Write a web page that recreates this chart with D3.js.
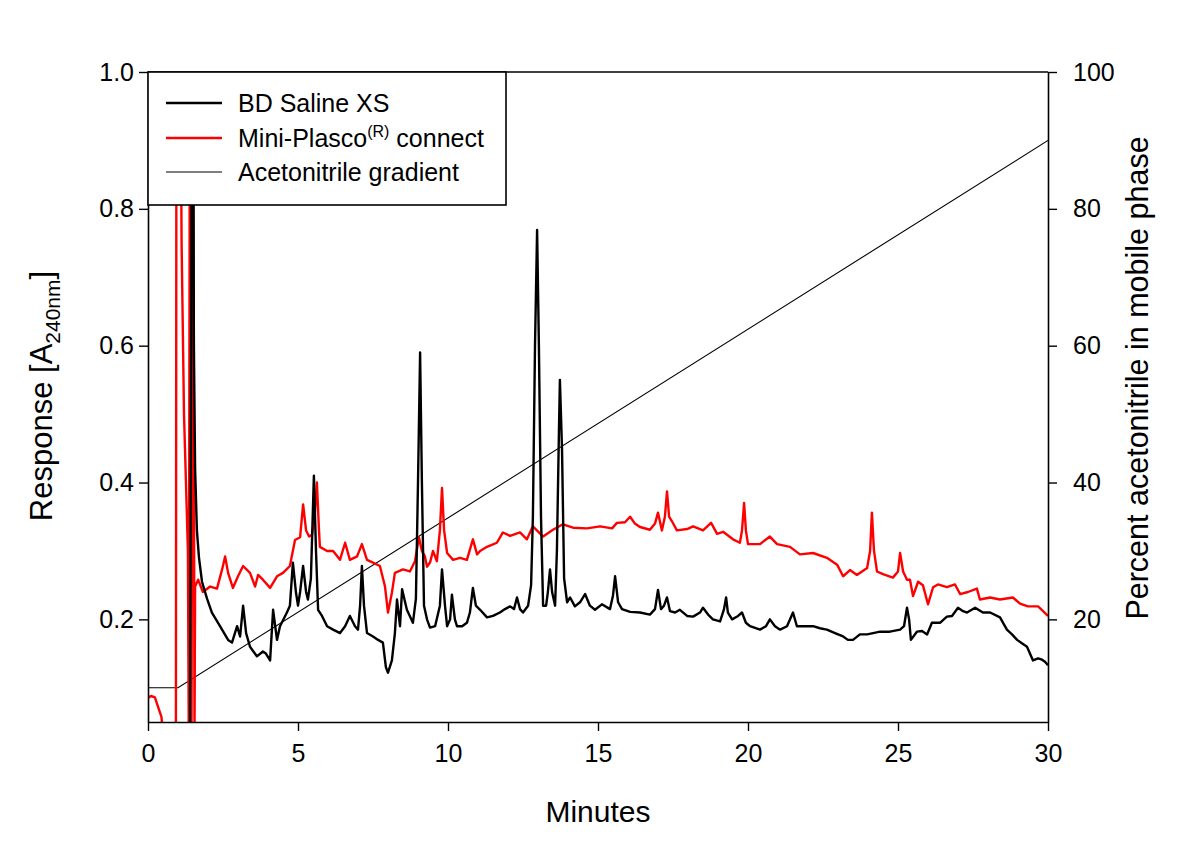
<!DOCTYPE html>
<html><head><meta charset="utf-8">
<script src="https://cdn.jsdelivr.net/npm/d3@7"></script>
<style>
html,body{margin:0;padding:0;background:#fff;}
svg text{font-family:"Liberation Sans", Arial, sans-serif;fill:#000;}
</style></head>
<body>
<svg id="chart" width="1200" height="858"></svg>
<script>
// ---- data ----
const xTicks = [0, 5, 10, 15, 20, 25, 30];
const leftTicks = [0.2, 0.4, 0.6, 0.8, 1.0];
const rightTicks = [20, 40, 60, 80, 100];

const gradientTime = [0, 1, 30];
const gradientPct = [10, 10, 90];

const blackTime = [1.40,1.47,1.50,1.53,1.57,1.63,1.7,1.8,1.97,2.13,2.4,2.67,2.8,2.97,3.07,3.17,3.27,3.4,3.63,3.83,3.93,4.07,4.17,4.3,4.4,4.63,4.73,4.83,4.93,5.0,5.07,5.17,5.27,5.33,5.43,5.53,5.6,5.67,5.8,5.97,6.17,6.4,6.57,6.73,6.9,7.0,7.07,7.13,7.2,7.3,7.5,7.67,7.83,7.93,8.0,8.13,8.23,8.3,8.4,8.47,8.57,8.63,8.83,8.93,9.0,9.07,9.13,9.2,9.3,9.4,9.57,9.73,9.8,9.9,9.97,10.07,10.13,10.23,10.3,10.47,10.63,10.73,10.83,10.93,11.07,11.3,11.5,11.73,11.9,12.07,12.2,12.3,12.4,12.5,12.67,12.77,12.83,12.9,12.97,13.03,13.1,13.17,13.27,13.33,13.4,13.47,13.57,13.63,13.7,13.73,13.8,13.87,13.97,14.07,14.23,14.4,14.57,14.73,14.9,15.13,15.4,15.5,15.57,15.67,15.8,16.07,16.4,16.73,16.9,17.0,17.1,17.2,17.3,17.4,17.57,17.73,17.97,18.17,18.4,18.5,18.67,18.83,19.07,19.2,19.27,19.33,19.47,19.67,19.8,19.93,20.07,20.4,20.6,20.73,20.9,21.07,21.3,21.5,21.63,21.9,22.17,22.4,22.63,22.9,23.17,23.33,23.5,23.73,23.97,24.17,24.4,24.73,25.07,25.2,25.3,25.37,25.43,25.63,25.8,25.97,26.13,26.4,26.63,26.8,27.0,27.17,27.3,27.57,27.83,28.07,28.4,28.63,28.8,28.97,29.13,29.3,29.5,29.67,29.8,29.9,30.0];
const blackAbs = [0.03,1.1,1.1,0.6,0.42,0.33,0.29,0.255,0.23,0.21,0.19,0.17,0.166,0.19,0.175,0.22,0.18,0.16,0.146,0.153,0.15,0.14,0.214,0.17,0.19,0.21,0.22,0.283,0.24,0.22,0.24,0.278,0.24,0.229,0.26,0.41,0.30,0.214,0.205,0.19,0.185,0.18,0.19,0.205,0.19,0.185,0.22,0.278,0.22,0.18,0.175,0.17,0.166,0.13,0.122,0.14,0.18,0.229,0.19,0.244,0.225,0.214,0.195,0.23,0.40,0.59,0.40,0.22,0.20,0.188,0.19,0.22,0.273,0.22,0.19,0.20,0.236,0.20,0.19,0.19,0.195,0.21,0.246,0.22,0.214,0.203,0.205,0.21,0.215,0.219,0.215,0.232,0.215,0.21,0.22,0.25,0.35,0.60,0.769,0.60,0.35,0.22,0.22,0.24,0.273,0.24,0.22,0.30,0.48,0.55,0.45,0.26,0.225,0.232,0.219,0.225,0.237,0.22,0.214,0.222,0.215,0.235,0.263,0.225,0.215,0.211,0.21,0.207,0.215,0.243,0.215,0.22,0.232,0.212,0.21,0.214,0.205,0.204,0.21,0.217,0.207,0.20,0.197,0.215,0.232,0.21,0.20,0.205,0.21,0.195,0.19,0.185,0.19,0.20,0.19,0.185,0.19,0.21,0.19,0.19,0.19,0.187,0.185,0.18,0.175,0.17,0.17,0.178,0.178,0.18,0.182,0.182,0.185,0.19,0.217,0.20,0.17,0.182,0.183,0.178,0.195,0.195,0.204,0.205,0.217,0.212,0.21,0.217,0.21,0.21,0.203,0.185,0.178,0.17,0.165,0.16,0.14,0.143,0.141,0.138,0.133];

const redTime = [0,0.1,0.23,0.33,0.45,0.5,0.93,0.95,1.07,1.12,1.2,1.33,1.36,1.40,1.45,1.50,1.55,1.57,1.67,1.83,2.07,2.3,2.47,2.57,2.67,2.83,3.0,3.17,3.4,3.57,3.67,3.83,4.07,4.3,4.5,4.73,4.9,5.07,5.17,5.27,5.37,5.47,5.57,5.63,5.7,5.73,5.97,6.17,6.4,6.57,6.73,6.97,7.13,7.3,7.5,7.73,7.9,8.0,8.13,8.23,8.5,8.73,8.9,9.03,9.13,9.23,9.3,9.4,9.5,9.63,9.73,9.8,9.87,9.97,10.17,10.4,10.63,10.83,10.97,11.07,11.3,11.63,11.83,12.07,12.4,12.63,12.83,13.17,13.5,13.83,14.17,14.63,15.07,15.47,15.63,15.9,16.07,16.23,16.4,16.73,16.9,17.0,17.13,17.23,17.3,17.37,17.47,17.63,17.97,18.17,18.5,18.77,18.97,19.17,19.5,19.73,19.8,19.87,19.93,20.0,20.4,20.73,20.97,21.4,21.73,22.17,22.63,22.97,23.17,23.4,23.63,23.97,24.07,24.13,24.2,24.3,24.5,24.83,25.0,25.07,25.17,25.3,25.4,25.5,25.67,25.83,26.0,26.17,26.33,26.63,26.9,27.07,27.33,27.63,27.73,28.07,28.4,28.83,29.07,29.33,29.67,30.0];
const redAbs = [0.085,0.088,0.086,0.073,0.057,0.03,0.03,1.1,1.1,0.75,0.5,0.30,0.03,1.1,0.03,1.1,0.03,0.248,0.258,0.24,0.248,0.245,0.273,0.292,0.268,0.246,0.263,0.278,0.268,0.248,0.265,0.258,0.246,0.263,0.268,0.278,0.316,0.32,0.368,0.33,0.321,0.324,0.36,0.40,0.33,0.306,0.30,0.30,0.287,0.312,0.287,0.292,0.31,0.287,0.283,0.278,0.248,0.21,0.239,0.268,0.273,0.27,0.285,0.32,0.30,0.292,0.277,0.283,0.30,0.285,0.33,0.392,0.33,0.297,0.287,0.29,0.287,0.317,0.295,0.30,0.306,0.312,0.327,0.322,0.327,0.317,0.336,0.321,0.331,0.339,0.334,0.333,0.336,0.333,0.341,0.342,0.35,0.34,0.335,0.331,0.34,0.356,0.33,0.35,0.387,0.35,0.343,0.33,0.332,0.336,0.33,0.341,0.325,0.328,0.317,0.312,0.33,0.37,0.33,0.31,0.31,0.321,0.31,0.306,0.295,0.297,0.29,0.28,0.263,0.272,0.265,0.275,0.30,0.356,0.30,0.27,0.266,0.261,0.27,0.297,0.27,0.258,0.258,0.234,0.255,0.25,0.222,0.247,0.251,0.247,0.251,0.237,0.24,0.245,0.229,0.232,0.229,0.232,0.223,0.219,0.219,0.205];

const legendLabels = ["BD Saline XS", "Mini-Plasco", "Acetonitrile gradient"];
const seriesColors = ["#000000", "#ff0000", "#000000"];

// ---- layout ----
const L = 148, R = 1048, T = 72, B = 722;
const svg = d3.select("#chart");
const x = d3.scaleLinear().domain([0, 30]).range([L, R]);
const yL = d3.scaleLinear().domain([0.05, 1.0]).range([B, T]);
const yR = d3.scaleLinear().domain([5, 100]).range([B, T]);

svg.append("defs").append("clipPath").attr("id", "clip")
  .append("rect").attr("x", L).attr("y", T).attr("width", R - L).attr("height", B - T);

const plot = svg.append("g").attr("clip-path", "url(#clip)");

const line = d3.line().x(d => x(d[0])).y(d => d[2] ? yR(d[1]) : yL(d[1]));

const gradData = gradientTime.map((t, i) => [t, gradientPct[i], true]);
const blackData = blackTime.map((t, i) => [t, blackAbs[i]]);
const redData = redTime.map((t, i) => [t, redAbs[i]]);

plot.append("path").datum(gradData).attr("d", line)
  .attr("fill", "none").attr("stroke", "#000").attr("stroke-width", 1.1);
plot.append("path").datum(redData).attr("d", line)
  .attr("fill", "none").attr("stroke", seriesColors[1]).attr("stroke-width", 2.4).attr("stroke-linejoin", "round");
plot.append("path").datum(blackData).attr("d", line)
  .attr("fill", "none").attr("stroke", seriesColors[0]).attr("stroke-width", 2.4).attr("stroke-linejoin", "round");

// ---- axes ----
const axisStyle = g => {
  g.selectAll("path").attr("stroke", "#000").attr("stroke-width", 1.6);
  g.selectAll("line").attr("stroke", "#000").attr("stroke-width", 1.4);
  g.selectAll("text").style("font-family", '"Liberation Sans", Arial, sans-serif').style("font-size", "25px");
};
svg.append("g").attr("transform", `translate(0,${B})`)
  .call(d3.axisBottom(x).tickValues(xTicks).tickSize(9).tickSizeOuter(0).tickPadding(13).tickFormat(d3.format("d")))
  .call(axisStyle);
svg.append("g").attr("transform", `translate(${L},0)`)
  .call(d3.axisLeft(yL).tickValues(leftTicks).tickSize(9).tickSizeOuter(0).tickPadding(5).tickFormat(d3.format(".1f")))
  .call(axisStyle);
svg.append("g").attr("transform", `translate(${R},0)`)
  .call(d3.axisRight(yR).tickValues(rightTicks).tickSize(9).tickSizeOuter(0).tickPadding(16).tickFormat(d3.format("d")))
  .call(axisStyle);
// top frame
svg.append("line").attr("x1", L).attr("x2", R).attr("y1", T).attr("y2", T)
  .attr("stroke", "#000").attr("stroke-width", 1.6);

// ---- titles ----
svg.append("text").attr("x", (L + R) / 2).attr("y", 822).attr("text-anchor", "middle")
  .style("font-size", "30px").text("Minutes");
const lt = svg.append("text").attr("transform", "translate(52,396) rotate(-90)")
  .attr("text-anchor", "middle").style("font-size", "31px");
lt.append("tspan").text("Response [A");
lt.append("tspan").attr("dy", 8).style("font-size", "21px").text("240nm");
lt.append("tspan").attr("dy", -8).text("]");
svg.append("text").attr("transform", "translate(1148,378) rotate(-90)")
  .attr("text-anchor", "middle").style("font-size", "30.5px").text("Percent acetonitrile in mobile phase");

// ---- legend ----
const lg = svg.append("g");
lg.append("rect").attr("x", L).attr("y", T).attr("width", 358).attr("height", 133)
  .attr("fill", "#fff").attr("stroke", "#000").attr("stroke-width", 1.6);
const rowsY = [103, 138, 172];
legendLabels.forEach((lab, i) => {
  lg.append("line").attr("x1", 166).attr("x2", 222).attr("y1", rowsY[i]).attr("y2", rowsY[i])
    .attr("stroke", seriesColors[i]).attr("stroke-width", i === 2 ? 1.1 : 2.4);
  const t = lg.append("text").attr("x", 238).attr("y", rowsY[i] + 9).style("font-size", "25px");
  t.append("tspan").text(lab);
  if (i === 1) {
    t.append("tspan").attr("dy", -10).style("font-size", "16px").text("(R)");
    t.append("tspan").attr("dy", 10).text(" connect");
  }
});
</script>
</body></html>
